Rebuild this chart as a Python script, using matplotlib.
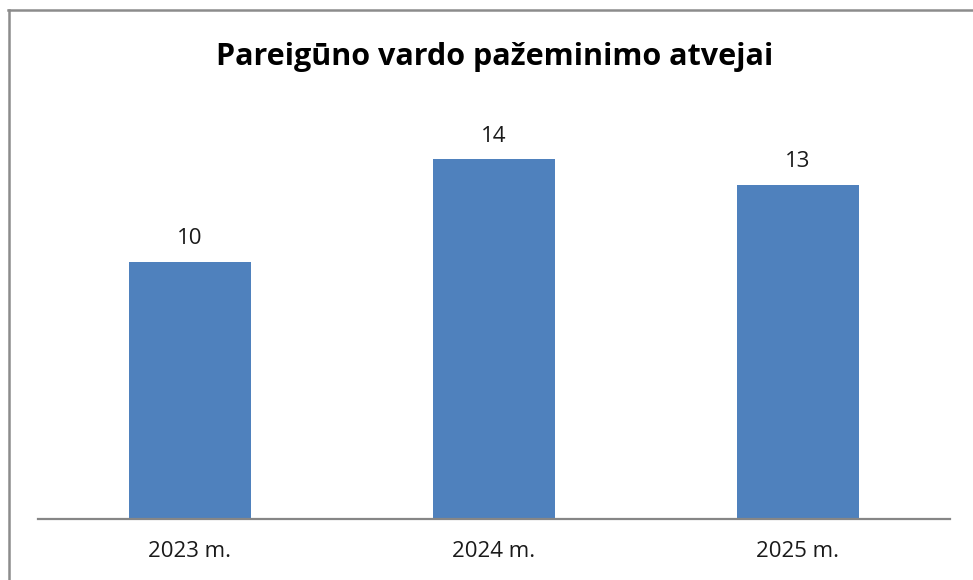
import matplotlib.pyplot as plt
from matplotlib.lines import Line2D

# Data
years = ['2023 m.', '2024 m.', '2025 m.']
cases = [10, 14, 13]

title = 'Pareigūno vardo pažeminimo atvejai'
bar_color = '#4F81BD'

fig = plt.figure(figsize=(9.73, 5.8), dpi=100)
ax = fig.add_axes([38 / 973, 61 / 580, 912 / 973, 419 / 580])

x = range(len(years))
bars = ax.bar(x, cases, width=0.4, color=bar_color)

ax.set_xlim(-0.5, len(years) - 0.5)
ax.set_ylim(0, 419 / 25.7)

# value labels above bars
for rect, v in zip(bars, cases):
    ax.annotate(str(v), (rect.get_x() + rect.get_width() / 2, v),
                xytext=(0, 9), textcoords='offset points',
                ha='center', va='bottom', fontsize=16, family='Open Sans',
                color='#1a1a1a')

ax.set_xticks(list(x))
ax.set_xticklabels(years, fontsize=16, family='Open Sans', color='#1a1a1a')
ax.tick_params(axis='x', length=0, pad=16)
ax.set_yticks([])

for side in ['top', 'right', 'left']:
    ax.spines[side].set_visible(False)
ax.spines['bottom'].set_color('#868686')
ax.spines['bottom'].set_linewidth(1.6)

fig.text(495 / 973, 1 - 57 / 580, title, ha='center', va='center',
         fontsize=22, fontweight='bold', family='Open Sans')

# chart frame (top and left edges visible)
fig.add_artist(Line2D([8 / 973, 1], [1 - 9.5 / 580, 1 - 9.5 / 580],
                      color='#8c8c8c', lw=1.8, transform=fig.transFigure))
fig.add_artist(Line2D([8.5 / 973, 8.5 / 973], [0, 1 - 9.5 / 580],
                      color='#8c8c8c', lw=1.8, transform=fig.transFigure))

fig.savefig('out.png', dpi=100)
